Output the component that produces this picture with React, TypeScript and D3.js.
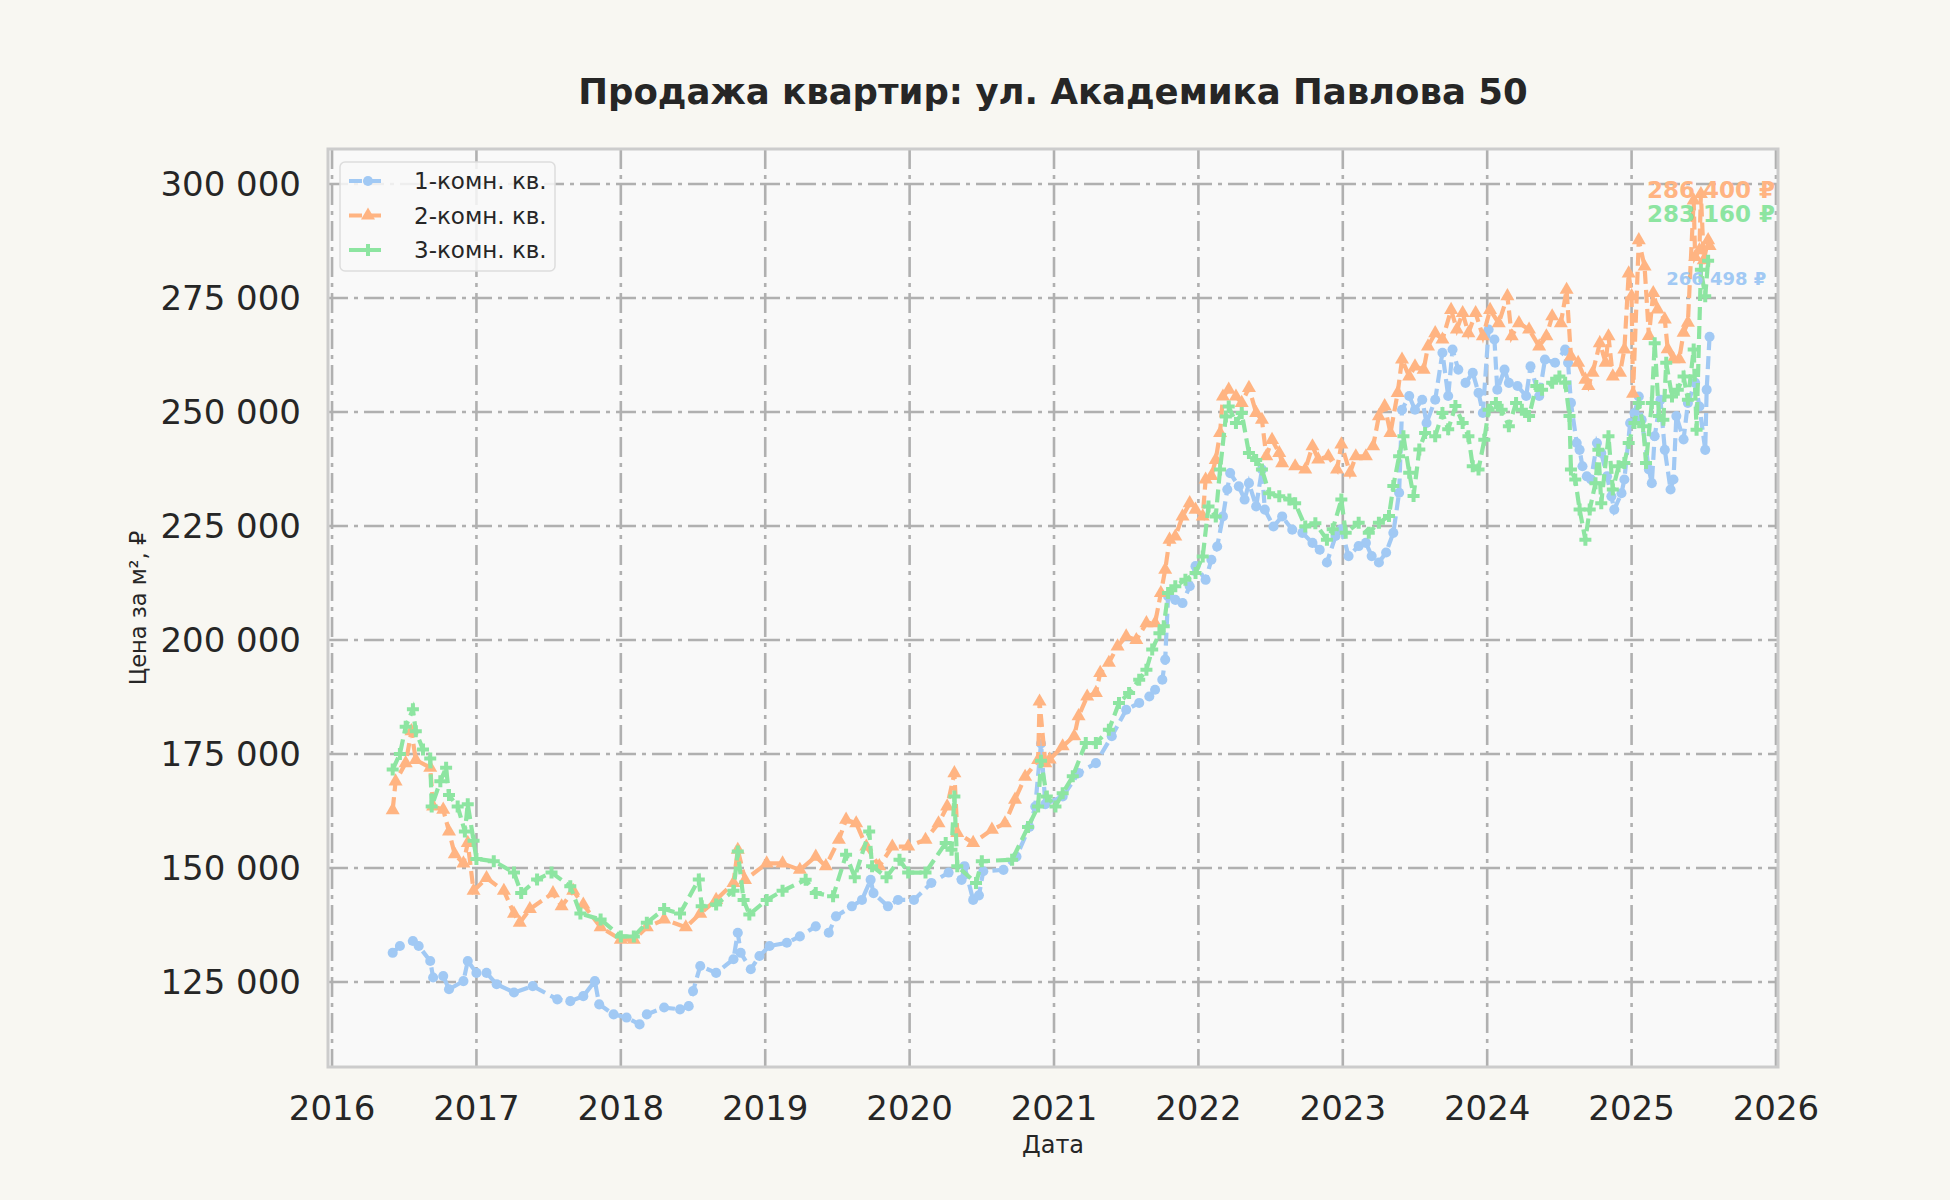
import React, { useEffect, useRef } from 'react';
import * as d3 from 'd3';

// dates as decimal years, prices in roubles per m²
const dates1 = [
	2016.42, 2016.47, 2016.56, 2016.6, 2016.68, 2016.7, 2016.77, 2016.81, 2016.91, 2016.94, 2017.0, 2017.07, 2017.14,
	2017.26, 2017.39, 2017.56, 2017.65, 2017.74, 2017.82, 2017.85, 2017.95, 2018.04, 2018.13, 2018.18, 2018.3, 2018.41,
	2018.47, 2018.5, 2018.55, 2018.66, 2018.78, 2018.81, 2018.83, 2018.9, 2018.96, 2019.03, 2019.15, 2019.24, 2019.35,
	2019.44, 2019.49, 2019.6, 2019.67, 2019.73, 2019.75, 2019.85, 2019.92, 2020.03, 2020.15, 2020.27, 2020.36, 2020.38,
	2020.44, 2020.48, 2020.51, 2020.65, 2020.74, 2020.83, 2020.87, 2020.91, 2020.94, 2021.06, 2021.17, 2021.29, 2021.4,
	2021.5, 2021.59, 2021.66, 2021.7, 2021.75, 2021.77, 2021.79, 2021.84, 2021.89, 2021.94, 2021.98, 2022.05, 2022.09,
	2022.13, 2022.17, 2022.2, 2022.22, 2022.28, 2022.32, 2022.35, 2022.4, 2022.44, 2022.46, 2022.52, 2022.58, 2022.65,
	2022.72, 2022.79, 2022.84, 2022.89, 2022.95, 2022.99, 2023.04, 2023.11, 2023.16, 2023.2, 2023.25, 2023.3, 2023.35,
	2023.39, 2023.41, 2023.46, 2023.5, 2023.55, 2023.58, 2023.64, 2023.69, 2023.73, 2023.76, 2023.8, 2023.85, 2023.9,
	2023.94, 2023.97, 2024.01, 2024.05, 2024.07, 2024.12, 2024.15, 2024.21, 2024.27, 2024.3, 2024.36, 2024.4, 2024.47,
	2024.54, 2024.56, 2024.58, 2024.62, 2024.64, 2024.66, 2024.69, 2024.72, 2024.76, 2024.79, 2024.83, 2024.86, 2024.88,
	2024.93, 2024.95, 2024.99, 2025.02, 2025.05, 2025.07, 2025.12, 2025.14, 2025.16, 2025.2, 2025.23, 2025.27, 2025.29,
	2025.31, 2025.36, 2025.39, 2025.44, 2025.47, 2025.51, 2025.52, 2025.54,
];
const price1 = [
	131400, 132900, 134000, 132900, 129600, 126000, 126300, 123400, 125200, 129600, 127000, 127000, 124500, 122700,
	124100, 121200, 120800, 121900, 125200, 120100, 117900, 117200, 115700, 117900, 119400, 119000, 119700, 123000,
	128500, 127000, 130000, 135800, 131400, 127800, 130700, 132900, 133600, 135000, 137200, 135800, 139400, 141600,
	143000, 147400, 144500, 141600, 143000, 143000, 146700, 149000, 147400, 150400, 143000, 144000, 149300, 149600,
	152500, 159000, 163500, 177300, 164000, 165700, 170800, 173000, 178900, 184700, 186200, 187600, 189100, 191300,
	195700, 209600, 208800, 208100, 211800, 216200, 213200, 217600, 220500, 227100, 233000, 236600, 233700, 230800,
	234400, 229300, 237400, 228600, 224900, 227100, 224200, 223500, 221300, 219800, 217000, 222800, 224300, 218400,
	220600, 221300, 218400, 217000, 219200, 223500, 232300, 250500, 253500, 250500, 252700, 247600, 252700, 263000,
	253500, 263700, 259300, 256400, 258600, 254200, 249800, 268100, 265900, 254900, 259300, 256400, 255700, 253500,
	260000, 253500, 261500, 260800, 263700, 260800, 252000, 243200, 241700, 238100, 235900, 235200, 243200, 241000,
	235900, 231500, 228600, 232200, 235200, 247600, 249800, 253400, 248300, 237400, 234400, 244700, 252700, 241700,
	233000, 235200, 249100, 244000, 252000, 256400, 251200, 241700, 254900, 266498,
];

const dates2 = [
	2016.42, 2016.44, 2016.51, 2016.55, 2016.58, 2016.68, 2016.7, 2016.77, 2016.81, 2016.85, 2016.91, 2016.94, 2016.98,
	2017.07, 2017.19, 2017.26, 2017.3, 2017.37, 2017.53, 2017.59, 2017.67, 2017.74, 2017.86, 2018.0, 2018.09, 2018.18,
	2018.3, 2018.45, 2018.55, 2018.66, 2018.78, 2018.81, 2018.86, 2019.01, 2019.12, 2019.24, 2019.35, 2019.42, 2019.51,
	2019.56, 2019.63, 2019.7, 2019.79, 2019.88, 2019.99, 2020.11, 2020.2, 2020.26, 2020.31, 2020.33, 2020.44, 2020.57,
	2020.66, 2020.73, 2020.8, 2020.89, 2020.9, 2020.94, 2020.97, 2021.06, 2021.14, 2021.17, 2021.23, 2021.29, 2021.32,
	2021.38, 2021.44, 2021.5, 2021.57, 2021.64, 2021.7, 2021.74, 2021.77, 2021.8, 2021.84, 2021.89, 2021.94, 2021.98,
	2022.03, 2022.05, 2022.09, 2022.12, 2022.15, 2022.17, 2022.21, 2022.26, 2022.3, 2022.35, 2022.4, 2022.44, 2022.47,
	2022.51, 2022.56, 2022.58, 2022.67, 2022.74, 2022.79, 2022.83, 2022.9, 2022.96, 2022.99, 2023.05, 2023.09, 2023.16,
	2023.21, 2023.25, 2023.29, 2023.33, 2023.38, 2023.41, 2023.46, 2023.5, 2023.56, 2023.59, 2023.64, 2023.69, 2023.75,
	2023.79, 2023.83, 2023.87, 2023.92, 2023.97, 2024.02, 2024.08, 2024.14, 2024.17, 2024.22, 2024.29, 2024.36, 2024.41,
	2024.45, 2024.51, 2024.55, 2024.58, 2024.63, 2024.68, 2024.7, 2024.73, 2024.78, 2024.82, 2024.84, 2024.87, 2024.92,
	2024.95, 2024.98, 2025.0, 2025.01, 2025.05, 2025.09, 2025.12, 2025.15, 2025.18, 2025.23, 2025.25, 2025.29, 2025.33,
	2025.36, 2025.39, 2025.43, 2025.44, 2025.47, 2025.48, 2025.5, 2025.53, 2025.54,
];
const price2 = [
	162700, 169000, 173000, 180000, 173700, 172000, 163500, 162800, 158000, 153000, 151000, 155500, 145000, 147800,
	145000, 140000, 138000, 141000, 144500, 141600, 145000, 142000, 137000, 134300, 134300, 137000, 138700, 137000,
	140000, 143000, 146700, 154000, 147400, 151000, 151000, 149600, 152500, 150400, 156200, 160600, 159800, 154700,
	150400, 154700, 154700, 156200, 159800, 163500, 170800, 157700, 155500, 158400, 159800, 165000, 170000, 173700,
	186500, 173000, 173800, 176700, 178900, 183300, 187600, 188400, 192800, 195000, 198600, 200800, 200000, 203700,
	203700, 210300, 215400, 222000, 222700, 227100, 230000, 228600, 227100, 235200, 236000, 239500, 245400, 253400,
	254900, 253400, 252000, 255300, 249800, 248300, 240300, 243900, 241000, 238800, 238100, 237400, 242500, 239600,
	240300, 237400, 242900, 236700, 240300, 240300, 242500, 249100, 251300, 245400, 254200, 261500, 257800, 260000,
	259300, 264400, 267300, 265900, 272400, 268100, 271700, 267300, 271700, 266600, 272400, 269500, 275400, 266600,
	269500, 268100, 264400, 266600, 271000, 269500, 276800, 262200, 260800, 257100, 255700, 258600, 265100, 260800,
	266600, 257800, 258600, 263700, 280400, 275400, 254000, 287700, 281900, 266700, 276100, 272500, 270300, 263800,
	261600, 261600, 267400, 269600, 296400, 284000, 285500, 297800, 283300, 287700, 286400,
];

const dates3 = [
	2016.42, 2016.47, 2016.51, 2016.56, 2016.58, 2016.63, 2016.68, 2016.69, 2016.75, 2016.79, 2016.81, 2016.87, 2016.92,
	2016.94, 2016.98, 2017.0, 2017.12, 2017.26, 2017.31, 2017.42, 2017.52, 2017.65, 2017.72, 2017.86, 2018.0, 2018.09,
	2018.18, 2018.3, 2018.41, 2018.54, 2018.56, 2018.66, 2018.78, 2018.81, 2018.85, 2018.89, 2019.01, 2019.12, 2019.28,
	2019.35, 2019.47, 2019.56, 2019.62, 2019.72, 2019.74, 2019.84, 2019.93, 2019.99, 2020.11, 2020.25, 2020.29, 2020.31,
	2020.33, 2020.46, 2020.5, 2020.71, 2020.82, 2020.89, 2020.91, 2020.95, 2021.01, 2021.06, 2021.13, 2021.22, 2021.29,
	2021.38, 2021.45, 2021.52, 2021.59, 2021.64, 2021.68, 2021.73, 2021.76, 2021.79, 2021.84, 2021.91, 2021.98, 2022.03,
	2022.07, 2022.12, 2022.15, 2022.19, 2022.21, 2022.26, 2022.3, 2022.35, 2022.4, 2022.44, 2022.49, 2022.56, 2022.63,
	2022.67, 2022.74, 2022.81, 2022.89, 2022.93, 2022.99, 2023.02, 2023.11, 2023.18, 2023.25, 2023.32, 2023.35, 2023.39,
	2023.42, 2023.46, 2023.49, 2023.53, 2023.57, 2023.64, 2023.69, 2023.73, 2023.78, 2023.83, 2023.87, 2023.9, 2023.94,
	2023.98, 2024.01, 2024.06, 2024.1, 2024.15, 2024.2, 2024.24, 2024.29, 2024.34, 2024.38, 2024.45, 2024.5, 2024.54,
	2024.57, 2024.58, 2024.61, 2024.64, 2024.68, 2024.71, 2024.75, 2024.77, 2024.79, 2024.84, 2024.87, 2024.91, 2024.95,
	2024.98, 2025.02, 2025.05, 2025.08, 2025.1, 2025.14, 2025.16, 2025.19, 2025.22, 2025.24, 2025.28, 2025.32, 2025.36,
	2025.39, 2025.43, 2025.45, 2025.48, 2025.51, 2025.53,
];
const price3 = [
	171600, 175000, 181000, 184800, 180000, 176000, 174000, 163500, 169000, 172000, 166000, 163500, 158000, 164000,
	156000, 152000, 151500, 149000, 144500, 147500, 149000, 146000, 140000, 138700, 135000, 135000, 138000, 141000,
	140000, 147500, 141600, 142000, 145000, 153600, 143000, 139800, 143000, 145000, 147400, 144500, 143800, 152900,
	148000, 158000, 150400, 148000, 151800, 149000, 149000, 155500, 154000, 165700, 150400, 146700, 151500, 151800,
	159000, 163500, 173500, 165700, 163500, 166400, 170100, 177400, 177400, 180300, 186200, 188400, 191300, 193500,
	197900, 201500, 203000, 210300, 211800, 213200, 214700, 218300, 229300, 227100, 237400, 249000, 251200, 247600,
	249800, 241000, 239500, 237400, 232200, 231500, 230800, 230000, 224900, 225600, 222000, 224300, 230800, 223500,
	225700, 223500, 225700, 227200, 233800, 240300, 244700, 236700, 231600, 241800, 245400, 244700, 249800, 246200,
	251300, 247600, 244700, 238100, 237400, 243900, 250500, 252000, 250500, 246900, 252000, 250500, 249100, 255700,
	254900, 256400, 257800, 256400, 249100, 237400, 235200, 228600, 222000, 228600, 234400, 241700, 230000, 244700,
	233000, 238100, 238800, 243200, 247600, 252000, 246900, 238800, 252000, 265100, 249100, 248300, 260800, 253400,
	254900, 257800, 252700, 263700, 246100, 281200, 275400, 283160,
];

const seriesNames = ['1-комн. кв.', '2-комн. кв.', '3-комн. кв.'];
const seriesColors = ['#a1c9f4', '#ffb482', '#8de5a1'];
const lastLabels = ['266 498 ₽', '286 400 ₽', '283 160 ₽'];
const yearTicks = [2016, 2017, 2018, 2019, 2020, 2021, 2022, 2023, 2024, 2025, 2026];
const priceTicks = [125000, 150000, 175000, 200000, 225000, 250000, 275000, 300000];

const W = 1950;
const H = 1200;
const FONT = '"DejaVu Sans", sans-serif';

const App: React.FC = () => {
	const ref = useRef<SVGSVGElement>(null);

	// plot box
	const margin = { top: 149, right: 172, bottom: 133, left: 328 };
	const innerWidth = W - margin.left - margin.right;
	const innerHeight = H - margin.top - margin.bottom;

	useEffect(() => {
		const svg = d3.select(ref.current);
		svg.selectAll('*').remove();

		svg.append('rect').attr('width', W).attr('height', H).attr('fill', '#f8f7f2');

		const x = d3.scaleLinear().domain([2015.972, 2026.014]).range([0, innerWidth]);
		const y = d3.scaleLinear().domain([106360, 307680]).range([innerHeight, 0]);

		const g = svg.append('g').attr('transform', `translate(${margin.left},${margin.top})`);
		g.append('rect').attr('width', innerWidth).attr('height', innerHeight).attr('fill', '#f9f9f9');

		// grid
		const gridDash = '20,6,4,6';
		g.append('g')
			.selectAll('line')
			.data(yearTicks)
			.join('line')
			.attr('x1', (d) => x(d))
			.attr('x2', (d) => x(d))
			.attr('y1', 0)
			.attr('y2', innerHeight)
			.attr('stroke', '#b0b0b0')
			.attr('stroke-width', 2.6)
			.attr('stroke-dasharray', gridDash);
		g.append('g')
			.selectAll('line')
			.data(priceTicks)
			.join('line')
			.attr('x1', 0)
			.attr('x2', innerWidth)
			.attr('y1', (d) => y(d))
			.attr('y2', (d) => y(d))
			.attr('stroke', '#b0b0b0')
			.attr('stroke-width', 2.6)
			.attr('stroke-dasharray', gridDash);

		// tick labels
		const fmt = (v: number) => d3.format(',')(v).replace(/,/g, ' ');
		g.append('g')
			.selectAll('text')
			.data(priceTicks)
			.join('text')
			.attr('x', -27)
			.attr('y', (d) => y(d))
			.attr('dy', '0.36em')
			.attr('text-anchor', 'end')
			.attr('font-family', FONT)
			.attr('font-size', 34)
			.attr('fill', '#262626')
			.text((d) => fmt(d));
		g.append('g')
			.selectAll('text')
			.data(yearTicks)
			.join('text')
			.attr('x', (d) => x(d))
			.attr('y', innerHeight + 53)
			.attr('text-anchor', 'middle')
			.attr('font-family', FONT)
			.attr('font-size', 34)
			.attr('fill', '#262626')
			.text((d) => String(d));

		// series
		const allDates = [dates1, dates2, dates3];
		const allPrices = [price1, price2, price3];
		const symbols = [d3.symbolCircle, d3.symbolTriangle, d3.symbolCross];
		const symSizes = [80, 85, 80];

		const line = d3
			.line<[number, number]>()
			.x((d) => x(d[0]))
			.y((d) => y(d[1]));

		allDates.forEach((dates, i) => {
			const pts: [number, number][] = dates.map((d, j) => [d, allPrices[i][j]]);
			const sg = g.append('g');
			sg.append('path')
				.attr('d', line(pts))
				.attr('fill', 'none')
				.attr('stroke', seriesColors[i])
				.attr('stroke-width', 4.2)
				.attr('stroke-dasharray', '13,6');
			sg.selectAll('path.m')
				.data(pts)
				.join('path')
				.attr('class', 'm')
				.attr('transform', (d) => `translate(${x(d[0])},${y(d[1])})`)
				.attr('d', d3.symbol().type(symbols[i]).size(symSizes[i])())
				.attr('fill', seriesColors[i]);
		});

		// last value labels (axes fraction positions)
		const labelPos = [
			{ fx: 0.992, fy: 0.148, size: 18 },
			{ fx: 0.998, fy: 0.053, size: 23 },
			{ fx: 0.998, fy: 0.08, size: 23 },
		];
		labelPos.forEach((p, i) => {
			g.append('text')
				.attr('x', p.fx * innerWidth)
				.attr('y', p.fy * innerHeight)
				.attr('text-anchor', 'end')
				.attr('font-family', FONT)
				.attr('font-weight', 'bold')
				.attr('font-size', p.size)
				.attr('fill', seriesColors[i])
				.text(lastLabels[i]);
		});

		// frame
		g.append('rect')
			.attr('width', innerWidth)
			.attr('height', innerHeight)
			.attr('fill', 'none')
			.attr('stroke', '#cccccc')
			.attr('stroke-width', 3);

		// legend
		const lg = g.append('g').attr('transform', 'translate(12,13)');
		lg.append('rect')
			.attr('width', 215)
			.attr('height', 109)
			.attr('rx', 5)
			.attr('fill', '#f9f9f9')
			.attr('fill-opacity', 0.85)
			.attr('stroke', '#dddddd')
			.attr('stroke-width', 1.5);
		seriesNames.forEach((name, i) => {
			const ly = 19 + i * 34.5;
			lg.append('line')
				.attr('x1', 9)
				.attr('x2', 47)
				.attr('y1', ly)
				.attr('y2', ly)
				.attr('stroke', seriesColors[i])
				.attr('stroke-width', 4.2)
				.attr('stroke-dasharray', '13,6');
			lg.append('path')
				.attr('transform', `translate(28,${ly})`)
				.attr('d', d3.symbol().type(symbols[i]).size(symSizes[i])())
				.attr('fill', seriesColors[i]);
			lg.append('text')
				.attr('x', 74)
				.attr('y', ly)
				.attr('dy', '0.36em')
				.attr('font-family', FONT)
				.attr('font-size', 23)
				.attr('fill', '#262626')
				.text(name);
		});

		// titles
		svg.append('text')
			.attr('x', margin.left + innerWidth / 2)
			.attr('y', 104)
			.attr('text-anchor', 'middle')
			.attr('font-family', FONT)
			.attr('font-weight', 'bold')
			.attr('font-size', 35.5)
			.attr('fill', '#262626')
			.text('Продажа квартир: ул. Академика Павлова 50');
		svg.append('text')
			.attr('x', margin.left + innerWidth / 2)
			.attr('y', 1153)
			.attr('text-anchor', 'middle')
			.attr('font-family', FONT)
			.attr('font-size', 24)
			.attr('fill', '#262626')
			.text('Дата');
		svg.append('text')
			.attr('transform', `translate(146,${margin.top + innerHeight / 2}) rotate(-90)`)
			.attr('text-anchor', 'middle')
			.attr('font-family', FONT)
			.attr('font-size', 22.5)
			.attr('fill', '#262626')
			.text('Цена за м², ₽');
	}, []);

	return (
		<svg
			ref={ref}
			width={W}
			height={H}
			style={{ position: 'absolute', left: 0, top: 0, display: 'block' }}
		/>
	);
};

export default App;
